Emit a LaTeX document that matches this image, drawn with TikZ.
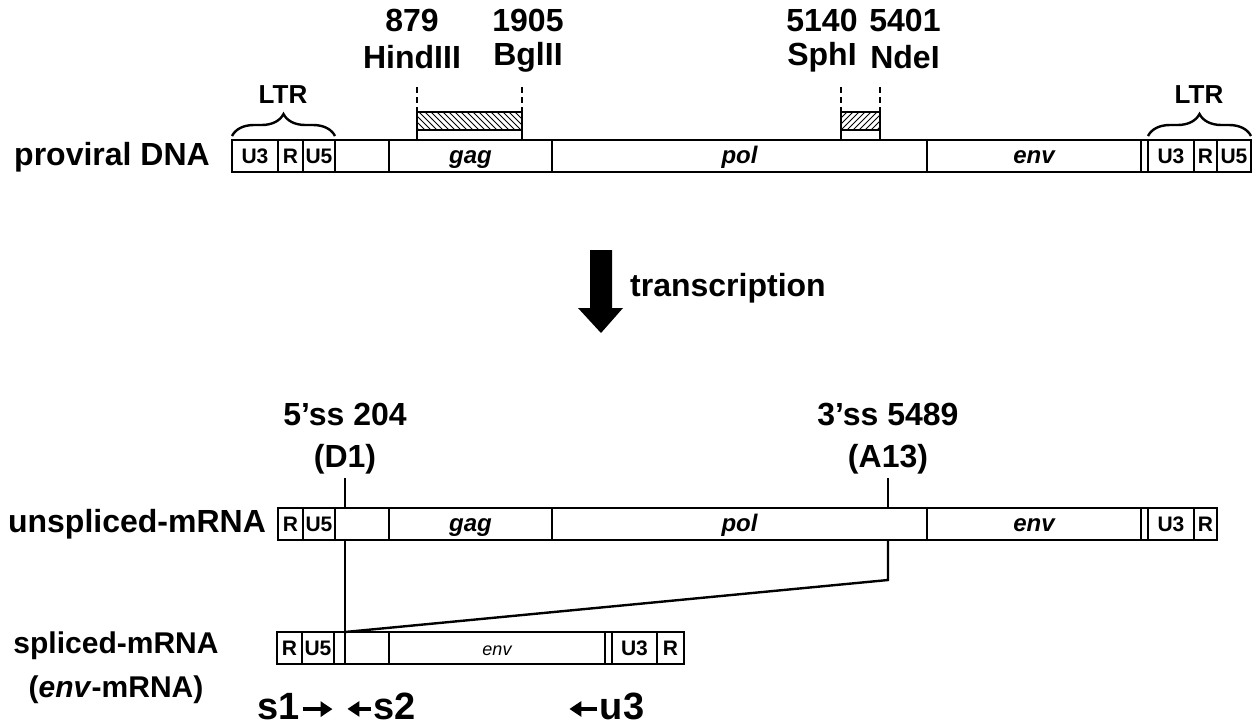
\documentclass[tikz,border=0pt]{standalone}
\usepackage{fontspec}
\setmainfont{Liberation Sans}
\usetikzlibrary{
    arrows.meta,
    calc,
    patterns,
    decorations.pathreplacing
}

\begin{document}
\begin{tikzpicture}[x=0.5pt,y=-0.5pt,
    cellbox/.style={draw,line width=1.2pt},
    celltxt/.style={font=\fontsize{10.5}{12}\selectfont\bfseries,inner sep=0pt},
    genetxt/.style={font=\fontsize{12}{14}\selectfont\bfseries\itshape,inner sep=0pt,anchor=mid,yshift=-1pt},
    bigtxt/.style={font=\fontsize{16}{19}\selectfont\bfseries},
    ltrtxt/.style={font=\fontsize{13}{15}\selectfont\bfseries},
    primer/.style={font=\fontsize{19}{21}\selectfont\bfseries,anchor=base,inner sep=0pt},
    splice/.style={line width=1.2pt},
    cutsite/.style={line width=1.2pt,dash pattern=on 3pt off 2pt},
    primerarrow/.style={line width=2pt,-{Triangle[length=6pt,width=7.5pt]}},
    ltrbrace/.style={decorate,decoration={brace,amplitude=11pt},line width=1.2pt}
]
\useasboundingbox (0,0) rectangle (1260,725);

% Proviral DNA
\node[bigtxt] (dna) at (112,157) {proviral DNA};
\foreach \n/\a/\b/\t/\s in {pu3/232/278/U3/celltxt, pr/278/303/R/celltxt,
    pu5/303/335/U5/celltxt, pl/335/389/{}/celltxt, pgag/389/552/gag/genetxt,
    ppol/552/927/pol/genetxt, penv/927/1141/env/genetxt, pgap/1141/1148/{}/celltxt,
    qu3/1148/1194/U3/celltxt, qr/1194/1217/R/celltxt, qu5/1217/1251/U5/celltxt}
  \draw[cellbox] (\a,140) rectangle (\b,172) node[\s,midway] (\n) {\t};

% LTRs
\draw[ltrbrace] (232,136) -- (335,136);
\draw[ltrbrace] (1148,136) -- (1251,136);
\node[ltrtxt] (ltra) at (283,95) {LTR};
\node[ltrtxt] (ltrb) at (1199,95) {LTR};

% Probes
\draw[line width=1.2pt,pattern=north west lines] (417,112) rectangle (522,130);
\draw[line width=1.2pt,pattern=north east lines] (841,112) rectangle (880,130);
\foreach \x in {417,522,841,880} {
  \draw[cutsite] (\x,87) -- (\x,112);
  \draw[splice] (\x,112) -- (\x,140);
}

% Restriction sites
\node[bigtxt] (n879) at (412,20) {879};
\node[bigtxt] (hind) at (412,57) {HindIII};
\node[bigtxt] (n1905) at (528,20) {1905};
\node[bigtxt] (bgl) at (528,57) {BglII};
\node[bigtxt] (n5140) at (822,20) {5140};
\node[bigtxt] (sph) at (822,57) {SphI};
\node[bigtxt] (n5401) at (905,20) {5401};
\node[bigtxt] (nde) at (905,57) {NdeI};

% Transcription
\fill (590,250) -- (612,250) -- (612,308) -- (623,308) -- (601,333)
  -- (578,308) -- (590,308) -- cycle;
\node[bigtxt] (trans) at (728,288) {transcription};

% Unspliced mRNA
\node[bigtxt] (unsp) at (137,524) {unspliced-mRNA};
\foreach \n/\a/\b/\t/\s in {ur/278/303/R/celltxt, uu5/303/335/U5/celltxt,
    ul/335/389/{}/celltxt, ugag/389/552/gag/genetxt, upol/552/927/pol/genetxt,
    uenv/927/1141/env/genetxt, ugap/1141/1148/{}/celltxt,
    uu3/1148/1194/U3/celltxt, ura/1194/1217/R/celltxt}
  \draw[cellbox] (\a,508) rectangle (\b,540) node[\s,midway] (\n) {\t};

% Splice sites
\node[bigtxt] (ss5) at (345,414) {5'ss 204};
\node[bigtxt] (d1) at (345,459) {(D1)};
\node[bigtxt] (ss3) at (888,414) {3'ss 5489};
\node[bigtxt] (a13) at (888,459) {(A13)};
\coordinate (d1top) at (345,478);
\coordinate (d1box) at (345,508);
\coordinate (d1low) at (345,540);
\coordinate (a13top) at (888,478);
\coordinate (a13box) at (888,508);
\coordinate (a13low) at (888,540);
\coordinate (a13knee) at (888,580);
\coordinate (join) at (345,632);
\draw[splice] (d1top) -- (d1box);
\draw[splice] (a13top) -- (a13box);
\draw[splice] (d1low) -- (join);
\draw[splice] (a13low) -- (a13knee) -- (join);

% Spliced mRNA
\node[font=\fontsize{15}{18}\selectfont\bfseries] (sp) at (116,646) {spliced-mRNA};
\node[font=\fontsize{15}{18}\selectfont\bfseries] (spenv) at (116,690) {(\textit{env}-mRNA)};
\foreach \n/\a/\b/\t/\s in {sr/277/302/R/celltxt, su5/302/334/U5/celltxt,
    sgap/334/345/{}/celltxt, sl/345/389/{}/celltxt,
    sgapb/605/612/{}/celltxt, su3/612/657/U3/celltxt, sra/657/684/R/celltxt}
  \draw[cellbox] (\a,632) rectangle (\b,664) node[\s,midway] (\n) {\t};
\draw[cellbox] (389,632) rectangle (605,664)
  node[midway,anchor=mid,yshift=-1pt,font=\fontsize{9}{11}\selectfont\itshape] (senv) {env};

% Primers
\node[primer] (s1) at (279,719) {s1};
\node[primer] (s2) at (395,719) {s2};
\node[primer] (u3) at (622,719) {u3};
\draw[primerarrow] ([xshift=1pt,yshift=-1.5pt]s1.east) -- ++(30,0);
\draw[primerarrow] ([xshift=-1pt,yshift=-1.5pt]s2.west) -- ++(-24,0);
\draw[primerarrow] ([xshift=-1pt,yshift=-1.5pt]u3.west) -- ++(-28,0);

\end{tikzpicture}
\end{document}
